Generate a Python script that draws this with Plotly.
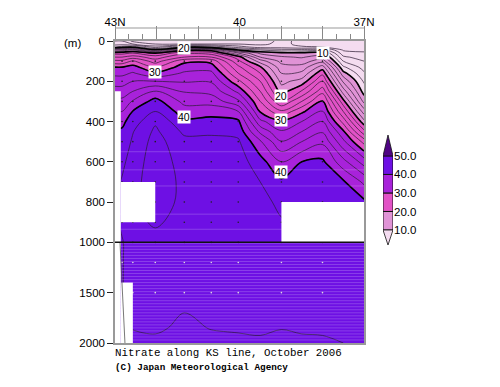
import plotly.graph_objects as go
import numpy as np

depths = [0,15,30,45,60,80,100,130,160,200,250,300,350,400,450,500,600,700,800,900,1000,1200,1500,1700,1850,2000]
lats = [43.0,42.83,42.57,42.03,41.33,40.68,40.03,39.5,38.99,38.5,38.0,37.5,37.0]

st_430 = [4,5,8,16,21.3,24,26.5,30,31.5,33,35,36.5,38,39.5,40.3,40.7,41.2,41.4,41.4,41.4,41,41,41,41,40.8,40.6]
st_428 = [4,5,9,17,21.3,24,26.5,30,31.5,33,35,36.5,38,39.5,40.3,40.7,41.5,42.2,42.5,42.5,41.8,41.8,41.8,41.8,41.6,41.3]
st_426 = [1.5,4,9.5,18,22,25,28.3,30.8,32.2,34,36,38.2,40.1,41,41.9,42.3,43,43.4,43.6,43.6,43.4,43.5,43.5,43.2,42.1,41.3]
st_420 = [1,2,5,11,20,23,25,28,30.4,34,38.3,40.8,42,43.7,44.4,44.8,45,45,44.8,44.2,43.5,43.5,43.5,43,42.4,41.4]
st_413 = [1,2,9,19.5,23.5,26,29.5,31,32.3,33.8,35.8,37.4,39,40.4,41.6,42.6,43.3,43.6,43.6,43.5,43.4,43.4,43.3,42,41.5,41]
st_407 = [1,2,8,19,23,26,29.4,31,32.5,33.8,35.4,37.2,39.3,40.6,41.7,42.5,43.2,43.4,43.4,43.4,43.3,43.3,43.3,43,42.1,41.3]
st_400 = [1,2,5,10,16,21,22.5,24.5,26,28.5,31.5,34.5,38,40.4,41.4,42.3,43,43.2,43.2,43.2,43.2,43.2,43.2,42.9,42.2,41.6]
st_395 = [1,1.6,3,8,11.5,14,17,20.3,22,24,26,28,29.8,32.5,35.5,38.3,40.8,42,42.8,43,43,43.1,43.1,42.9,42.3,41.7]
st_390 = [2.5,2.5,3,7,10.5,12.3,13.4,14.8,16,17.4,19.1,22.1,26.4,30.4,32.2,34.1,38,40.4,41.4,42.2,42.9,43,43,42.9,42.05,41.6]
st_385 = [1.5,1.5,2.2,7,10.5,11.8,13,14.8,16.5,18.8,22.2,26,29.6,32,34,36,40,41,41.5,41.8,43,43,43,42.8,42.2,41.7]
st_380 = [0.8,1,2,7,10.6,13,15.2,19,21.4,24,27.3,30.4,32.2,34,35.8,37.6,40.4,41,41.3,41.6,43,43,43,42.9,42.3,41.7]
st_375 = [0.8,0.9,1.2,1.8,2.8,4.4,6,8.4,10.7,13.6,17.1,20.7,24,27.3,30.4,32.5,36.7,40.3,40.8,41.2,43,43,43,42.8,42.5,42]
st_370 = [0.8,0.9,1.1,1.7,2.2,3.1,4,5.2,6.3,7.7,9.1,11.4,15,18.6,22.7,27.3,33.1,37.6,40.4,40.8,43,43,43,42.9,42.7,42.5]
columns = [st_430,st_428,st_426,st_420,st_413,st_407,st_400,st_395,st_390,st_385,st_380,st_375,st_370]

band_edges = [10,20,30,40,50]
band_colors = ["#f4dcf0","#e093d6","#e252c6","#a822da","#6e10e4","#4f0484"]
depth_ticks = [0,200,400,600,800,1000,1500,2000]
# missing-data boxes: lat_from, lat_to, depth_from, depth_to
gaps = [(42.86,42.03,700,900),(38.99,37.0,800,1000),(42.86,42.57,1400,2000),(43.0,42.86,250,2000)]
edge_lats = [42.88,42.76]
edge_depths = [1000,2000]
dot_lats = [42.83,42.57,42.03,41.33,40.68,40.03,38.99,38.0]
dot_depths = [100,200,300,400,500,600,700,800,900,1000,1200,1500]
stripe_depths = [550,640,720,860,935,1010,1040,1070,1100,1130,1160,1190,1220,1250,1280,1310,1340,1370,1400,1430,1460,1490,1520,1550,1580,1610,1640,1670,1700,1730,1760,1790,1820,1850,1880,1910,1940,1970]

FW, FH, OFF = 492, 379, 8  # page body margin offsets the figure by 8 px

def dy(d):
    return d if d <= 1000 else 1000 + (d-1000)/2
def latx(px):
    return 43 - (px-115)/41.4
def depth_of_py(py):
    return (py-41)/0.201
def fx(px):
    return (px-OFF)/FW
def fy(py):
    return 1-(py-OFF)/FH

Y = [dy(d) for d in depths]
Z = np.array(columns).T.tolist()

fig = go.Figure()
cs = []
vals = [0]+band_edges+[60]
for i,c in enumerate(band_colors):
    cs += [[vals[i]/60,c],[vals[i+1]/60,c]]
fig.add_trace(go.Contour(x=lats,y=Y,z=Z,zmin=0,zmax=60,autocontour=False,colorscale=cs,showscale=False,
    contours=dict(start=10,end=50,size=10,coloring="fill",showlines=False),line=dict(width=0),hoverinfo="skip"))
fig.add_trace(go.Contour(x=lats,y=Y,z=Z,autocontour=False,showscale=False,
    contours=dict(start=2,end=48,size=2,coloring="none"),line=dict(color="#2a1a30",width=0.7),hoverinfo="skip"))
fig.add_trace(go.Contour(x=lats,y=Y,z=Z,autocontour=False,showscale=False,
    contours=dict(start=10,end=40,size=10,coloring="none"),line=dict(color="#000000",width=1.6),hoverinfo="skip"))

# pale stripes
sx,sy=[],[]
for d in stripe_depths:
    sx += [43,37,None]; sy += [dy(d),dy(d),None]
fig.add_trace(go.Scatter(x=sx,y=sy,mode="lines",line=dict(color="rgba(255,255,255,0.2)",width=1),hoverinfo="skip"))

# stations
dark=[(la,dy(d)) for la in dot_lats for d in dot_depths if d<=1000]
light=[(la,dy(d)) for la in dot_lats for d in dot_depths if d>1000]
fig.add_trace(go.Scatter(x=[a for a,b in dark],y=[b for a,b in dark],mode="markers",marker=dict(size=1.6,color="#222"),hoverinfo="skip"))
fig.add_trace(go.Scatter(x=[a for a,b in light],y=[b for a,b in light],mode="markers",marker=dict(size=1.6,color="#ddd"),hoverinfo="skip"))

shapes=[]
for a,b,d0,d1 in gaps:
    shapes.append(dict(type="rect",x0=a,x1=b,y0=dy(d0),y1=dy(d1),xref="x",yref="y",fillcolor="white",line=dict(width=0),layer="above"))
shapes.append(dict(type="line",xref="x",yref="y",x0=edge_lats[0],x1=edge_lats[1],y0=dy(edge_depths[0]),y1=dy(edge_depths[1]),line=dict(color="#555",width=0.8),layer="above"))
shapes.append(dict(type="line",xref="x",yref="y",x0=43,x1=37,y0=1000,y1=1000,line=dict(color="#111",width=1.5),layer="above"))
shapes.append(dict(type="line",xref="x domain",yref="y domain",x0=0,x1=1,y0=1+13/302,y1=1+13/302,line=dict(color="#999",width=1.2)))

annotations=[]
for txt,px,py in [("20",184,48),("30",155,72),("40",184,117),("10",322,53),("20",281,96),("30",281,120),("40",281,172)]:
    annotations.append(dict(x=latx(px),y=depth_of_py(py),xref="x",yref="y",text=txt,showarrow=False,
        font=dict(family="Liberation Sans",size=10.5,color="black"),bgcolor="white",borderpad=0,xanchor="center",yanchor="middle"))
annotations.append(dict(x=fx(62),y=fy(43),xref="paper",yref="paper",text="(m)",showarrow=False,xanchor="left",yanchor="middle",
    font=dict(family="Liberation Sans",size=11.5,color="black")))
annotations.append(dict(x=fx(113),y=fy(353),xref="paper",yref="paper",text="Nitrate along KS line, October 2006",showarrow=False,xanchor="left",yanchor="middle",
    font=dict(family="Liberation Mono",size=10.8,color="black")))
annotations.append(dict(x=fx(113),y=fy(367),xref="paper",yref="paper",text="<b>(C) Japan Meteorological Agency</b>",showarrow=False,xanchor="left",yanchor="middle",
    font=dict(family="Liberation Mono",size=9.3,color="black")))

# colour key
low=[10,20,30,40]
fig.add_trace(go.Bar(x=[0]*4,y=[10]*4,base=low,width=1,marker=dict(color=band_colors[1:5],line=dict(color="#111",width=1)),xaxis="x2",yaxis="y2",hoverinfo="skip"))
fig.add_trace(go.Scatter(x=[-.5,0,.5,-.5],y=[50,61.3,50,50],mode="lines",fill="toself",fillcolor=band_colors[5],line=dict(color="#111",width=0.8),xaxis="x2",yaxis="y2",hoverinfo="skip"))
fig.add_trace(go.Scatter(x=[-.5,0,.5,-.5],y=[10,1.9,10,10],mode="lines",fill="toself",fillcolor=band_colors[0],line=dict(color="#111",width=0.8),xaxis="x2",yaxis="y2",hoverinfo="skip"))

fig.update_layout(width=FW,height=FH,autosize=False,margin=dict(l=0,r=0,t=0,b=0,pad=0),paper_bgcolor="white",plot_bgcolor="white",
    showlegend=False,barmode="overlay",shapes=shapes,annotations=annotations,font=dict(family="Liberation Sans",size=11.5,color="black"),
    xaxis=dict(automargin=False,domain=[fx(115),fx(364)],range=[43,37],side="top",showgrid=False,zeroline=False,showline=True,mirror=True,linecolor="#999",linewidth=1.5,
        tickvals=[43,42,41,40,39,38,37],ticktext=["43N","","","40","","","37N"],ticks="outside",ticklen=13,tickcolor="#888",tickwidth=1,ticklabelstandoff=-4,
        minor=dict(dtick=1/3,tick0=37,ticks="outside",ticklen=5,tickcolor="#888",tickwidth=1),anchor="y"),
    yaxis=dict(automargin=False,domain=[fy(343),fy(41)],range=[1500,0],showgrid=False,zeroline=False,showline=True,mirror=True,linecolor="#999",linewidth=1.5,
        tickvals=[dy(d) for d in depth_ticks],ticktext=[str(d) for d in depth_ticks],ticks="outside",ticklen=6,tickcolor="#222",tickwidth=1,anchor="x"),
    xaxis2=dict(automargin=False,domain=[fx(383),fx(393)],range=[-.5,.5],visible=False,anchor="y2"),
    yaxis2=dict(automargin=False,domain=[fy(245),fy(135)],range=[1.9,61.3],side="right",showgrid=False,zeroline=False,showline=False,anchor="x2",
        tickvals=band_edges,ticktext=[f"{v:.1f}" for v in band_edges],ticks="",tickfont=dict(size=11.5)))
fig.write_html("out.html")
